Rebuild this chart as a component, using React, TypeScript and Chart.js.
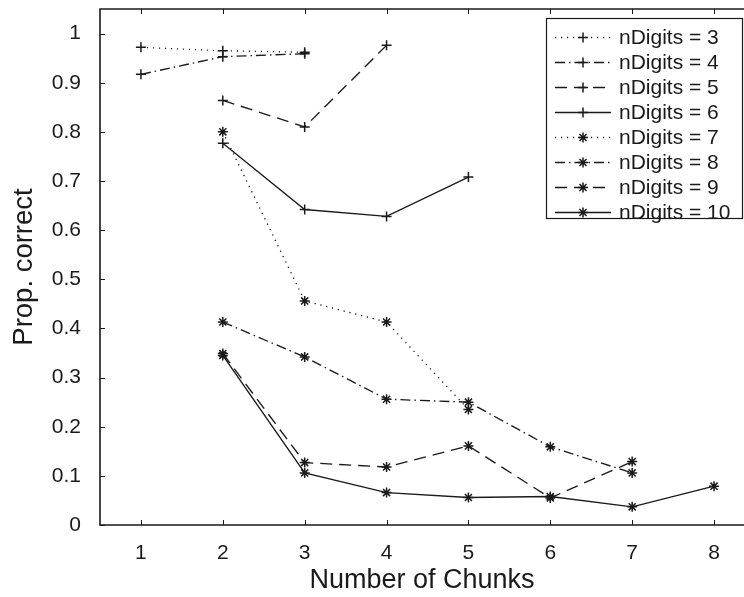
import React, { useEffect, useRef } from 'react';
import { Chart, registerables } from 'chart.js';
import { drawPoint } from 'chart.js/helpers';

Chart.register(...registerables);

// ---- data ----
const chunks = [1, 2, 3, 4, 5, 6, 7, 8];
const xTicks = [1, 2, 3, 4, 5, 6, 7, 8];
const yTicks = [0, 0.1, 0.2, 0.3, 0.4, 0.5, 0.6, 0.7, 0.8, 0.9, 1];
const seriesLabels = [
  'nDigits = 3', 'nDigits = 4', 'nDigits = 5', 'nDigits = 6',
  'nDigits = 7', 'nDigits = 8', 'nDigits = 9', 'nDigits = 10',
];
const nDigits3 = [0.972, 0.965, 0.962, null, null, null, null, null];
const nDigits4 = [0.917, 0.953, 0.959, null, null, null, null, null];
const nDigits5 = [null, 0.864, 0.810, 0.976, null, null, null, null];
const nDigits6 = [null, 0.777, 0.642, 0.628, 0.708, null, null, null];
const nDigits7 = [null, 0.800, 0.456, 0.413, 0.235, null, null, null];
const nDigits8 = [null, 0.413, 0.342, 0.256, 0.250, 0.159, 0.106, null];
const nDigits9 = [null, 0.349, 0.127, 0.118, 0.161, 0.055, 0.129, null];
const nDigits10 = [null, 0.345, 0.106, 0.066, 0.056, 0.058, 0.037, 0.079];
const seriesValues = [nDigits3, nDigits4, nDigits5, nDigits6, nDigits7, nDigits8, nDigits9, nDigits10];

// ---- styles ----
const FONT = "'Liberation Sans', Arial, Helvetica, sans-serif";
const INK = '#1a1a1a';
const DOTTED = [1.2, 4.8];
const DASHDOT = [10, 4, 1.5, 4];
const DASHED = [12, 7];
const SOLID: number[] = [];
const lineDashes = [DOTTED, DASHDOT, DASHED, SOLID, DOTTED, DASHDOT, DASHED, SOLID];
const markers = ['cross', 'cross', 'cross', 'cross', 'star', 'star', 'star', 'star'];

const zeroPad = (s: any) => {
  s.paddingTop = 0;
  s.paddingBottom = 0;
  s.paddingLeft = 0;
  s.paddingRight = 0;
};

const framePlugin = {
  id: 'matlabFrame',
  afterDatasetsDraw(chart: any) {
    const { ctx, chartArea, scales } = chart;
    const { left, top, right, bottom } = chartArea;
    const xs = scales.x;
    const ys = scales.y;
    ctx.save();
    ctx.setLineDash([]);
    ctx.strokeStyle = INK;
    ctx.lineWidth = 1.6;
    ctx.beginPath();
    ctx.moveTo(right + 2, top);
    ctx.lineTo(left, top);
    ctx.lineTo(left, bottom);
    ctx.lineTo(right + 2, bottom);
    ctx.stroke();
    ctx.lineWidth = 1;
    ctx.beginPath();
    xs.ticks.forEach((t: any) => {
      const px = Math.round(xs.getPixelForValue(t.value)) + 0.5;
      ctx.moveTo(px, bottom);
      ctx.lineTo(px, bottom - 5);
      ctx.moveTo(px, top);
      ctx.lineTo(px, top + 5);
    });
    ys.ticks.forEach((t: any) => {
      const py = Math.round(ys.getPixelForValue(t.value)) + 0.5;
      ctx.moveTo(left, py);
      ctx.lineTo(left + 5, py);
    });
    ctx.stroke();
    ctx.restore();
  },
};

const legendPlugin = {
  id: 'matlabLegend',
  afterDraw(chart: any) {
    const { ctx } = chart;
    const bx = 546.5, by = 18.5, bw = 196, bh = 200;
    ctx.save();
    ctx.setLineDash([]);
    ctx.fillStyle = '#ffffff';
    ctx.fillRect(bx, by, bw, bh);
    ctx.strokeStyle = INK;
    ctx.lineWidth = 1.2;
    ctx.strokeRect(bx, by, bw, bh);
    chart.data.datasets.forEach((ds: any, i: number) => {
      const y = 37.5 + i * 25;
      ctx.strokeStyle = INK;
      ctx.lineWidth = ds.borderWidth;
      ctx.lineCap = 'butt';
      ctx.setLineDash(ds.borderDash || []);
      ctx.beginPath();
      ctx.moveTo(555, y);
      ctx.lineTo(611, y);
      ctx.stroke();
      ctx.setLineDash([]);
      ctx.fillStyle = INK;
      ctx.lineWidth = ds.pointBorderWidth;
      drawPoint(ctx, { pointStyle: ds.pointStyle, radius: ds.pointRadius, rotation: 0, borderWidth: ds.pointBorderWidth }, 583, y);
      ctx.fillStyle = INK;
      ctx.font = `21px ${FONT}`;
      ctx.textAlign = 'left';
      ctx.textBaseline = 'middle';
      ctx.fillText(ds.label, 619, y + 0.5);
    });
    ctx.restore();
  },
};

export default function App() {
  const canvasRef = useRef<HTMLCanvasElement | null>(null);

  useEffect(() => {
    document.body.style.margin = '0';
    document.body.style.overflow = 'hidden';
    const canvas = canvasRef.current;
    if (!canvas) return;
    const datasets = seriesValues.map((vals, i) => ({
      label: seriesLabels[i],
      data: vals,
      borderColor: INK,
      backgroundColor: INK,
      borderWidth: 1.35,
      borderDash: lineDashes[i],
      borderCapStyle: 'butt',
      pointStyle: markers[i],
      pointRadius: 5,
      pointBorderWidth: 1.5,
      pointBorderColor: INK,
      pointBackgroundColor: INK,
      spanGaps: false,
      tension: 0,
      fill: false,
    }));
    const chart = new Chart(canvas, {
      type: 'line',
      data: { labels: chunks, datasets: datasets as any },
      options: {
        responsive: false,
        animation: false,
        devicePixelRatio: 1,
        layout: { autoPadding: false, padding: { top: 9, left: 0, right: 0, bottom: 0 } },
        plugins: { legend: { display: false }, tooltip: { enabled: false } },
        scales: {
          x: {
            type: 'linear',
            min: 0.5,
            max: 8.366,
            afterBuildTicks: (s: any) => { s.ticks = xTicks.map((v) => ({ value: v })); },
            afterFit: (s: any) => { s.height = 72; zeroPad(s); },
            grid: { display: false },
            border: { display: false },
            ticks: {
              font: { family: FONT, size: 21 },
              color: INK,
              padding: 8,
              maxRotation: 0,
              autoSkip: false,
              callback: (v: any) => String(v),
            },
            title: {
              display: true,
              text: 'Number of Chunks',
              font: { family: FONT, size: 27 },
              color: INK,
              padding: { top: -2, bottom: 0 },
            },
          },
          y: {
            type: 'linear',
            min: 0,
            max: 1.05,
            afterBuildTicks: (s: any) => { s.ticks = yTicks.map((v) => ({ value: v })); },
            afterFit: (s: any) => { s.width = 100; zeroPad(s); },
            grid: { display: false },
            border: { display: false },
            ticks: {
              font: { family: FONT, size: 21 },
              color: INK,
              padding: 11,
              autoSkip: false,
              callback: (v: any) => String(Math.round(v * 10) / 10),
            },
            title: {
              display: true,
              text: 'Prop. correct',
              font: { family: FONT, size: 27.5 },
              color: INK,
              padding: { top: 8, bottom: 0 },
            },
          },
        },
      },
      plugins: [framePlugin, legendPlugin],
    });
    return () => chart.destroy();
  }, []);

  return (
    <div style={{ width: 744, height: 597, background: '#fff' }}>
      <canvas ref={canvasRef} width={744} height={597} style={{ display: 'block' }} />
    </div>
  );
}
